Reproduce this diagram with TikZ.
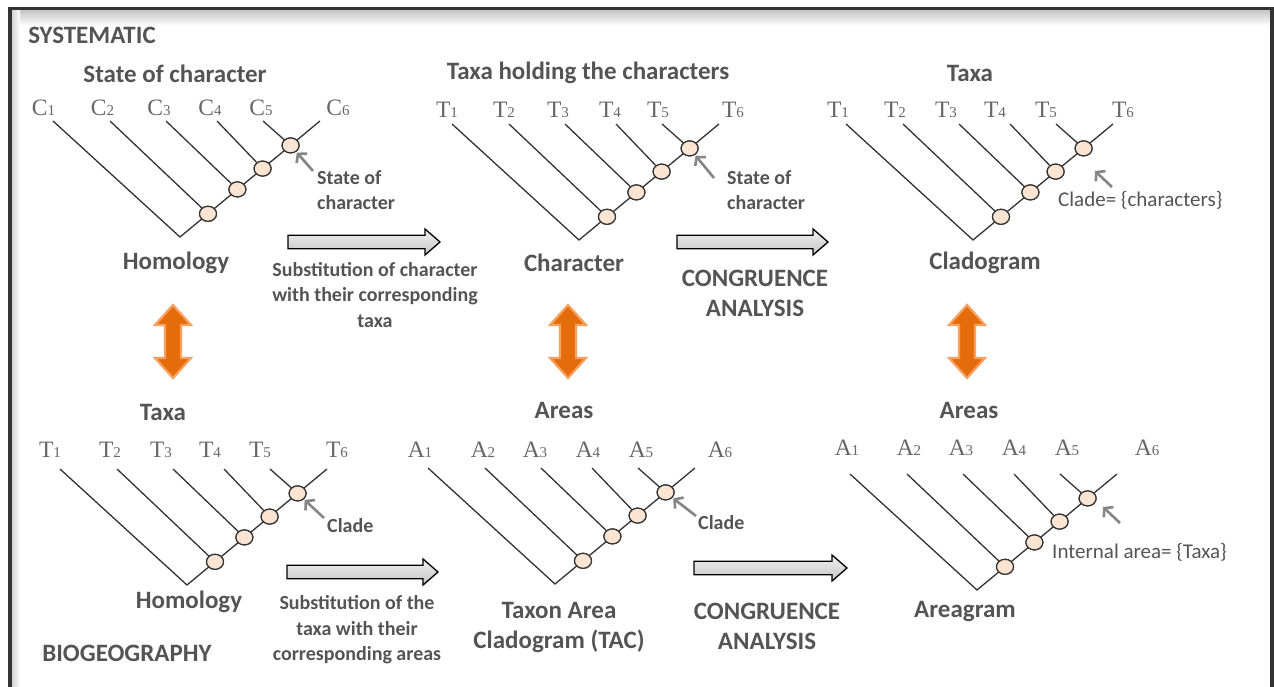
\documentclass[tikz,border=0pt]{standalone}
\usepackage{fontspec}
\setmainfont{Carlito}
\newfontfamily\leaffont{Liberation Serif}
\usetikzlibrary{shapes.geometric,arrows.meta}
\definecolor{txt}{HTML}{545454}
\definecolor{leafc}{HTML}{666666}
\definecolor{linec}{HTML}{333333}
\definecolor{peach}{HTML}{FCE4D2}
\definecolor{ptrc}{HTML}{858585}
\definecolor{orD}{HTML}{E46C0A}
\definecolor{orL}{HTML}{F9A060}
\tikzset{
  lbl/.style={font=\bfseries\fontsize{25}{30}\selectfont, text=txt, inner sep=0pt, align=center},
  note/.style={font=\bfseries\fontsize{20}{25.5}\selectfont, text=txt, inner sep=0pt, align=left},
  notereg/.style={font=\fontsize{21}{25}\selectfont, text=txt, inner sep=0pt, align=left},
  subst/.style={font=\bfseries\fontsize{20}{25.5}\selectfont, text=txt, inner sep=0pt, align=center},
  leaflab/.style={font=\leaffont\fontsize{23.5}{23.5}\selectfont, text=leafc, inner sep=0pt},
  br/.style={draw=linec, line width=1.3pt},
  knot/.style={ellipse, draw=linec, line width=1.2pt, fill=peach, minimum width=17pt, minimum height=15pt, inner sep=0pt},
  ptr/.style={draw=ptrc, line width=2.6pt, -{Straight Barb[length=6pt,width=14pt]}},
  garrow/.style={draw=black, line width=1.3pt, top color=gray!12, bottom color=gray!45},
  oarrow/.style={draw=orL, line width=2.2pt, fill=orD}
}
\newcommand{\dg}[1]{{\fontsize{15}{15}\selectfont #1}}
\newcommand{\grayarrow}[3]{% x0, x1, y
  \path[garrow] (#1,#3-6.7) -- (#2-15,#3-6.7) -- (#2-15,#3-13) -- (#2,#3) -- (#2-15,#3+13) -- (#2-15,#3+6.7) -- (#1,#3+6.7) -- cycle;}
\newcommand{\orangearrow}[1]{% cx
  \path[oarrow] (#1,305) -- (#1+18,325) -- (#1+8,325) -- (#1+8,358) -- (#1+18,358) -- (#1,378) -- (#1-18,358) -- (#1-8,358) -- (#1-8,325) -- (#1-18,325) -- cycle;}
\begin{document}
\begin{tikzpicture}[x=1pt,y=-1pt]
\useasboundingbox (0,0) rectangle (1274,687);
% frame
\shade[top color=gray!45, bottom color=white] (11.5,10) rectangle (1270.5,26);
\shade[left color=gray!35, right color=white] (11.5,10) rectangle (20,687);
\draw[line width=3.5pt, color=linec] (10,700) -- (10,8.5) -- (1272,8.5) -- (1272,700);

% trees
\foreach \p/\rx/\ry/\ly/\L/\xa/\xb/\xc/\xd/\xe/\xf in {
  a/180/237/108/C/43.5/102.5/159/210/261/338,
  b/579/240/110/T/447/504/558/610/658/733,
  c/973/240/110/T/838/895/946/995/1046/1123,
  d/187/585/450/T/50/110/161/210/260/337,
  e/555/584/450/A/420/483/535/588/641/720,
  f/977/590/448/A/847/909/961/1014/1067/1147}{
  \coordinate (\p r) at (\rx,\ry);
  \coordinate (\p s) at ({\rx+140},{\ry-116});
  \coordinate (\p l1) at ({\rx-127},{\ry-116});
  \coordinate (\p l2) at ({\rx-70},{\ry-116});
  \coordinate (\p l3) at ({\rx-14},{\ry-116});
  \coordinate (\p l4) at ({\rx+37},{\ry-116});
  \coordinate (\p l5) at ({\rx+83},{\ry-116});
  \path[br] (\p l1) -- (\p r) -- (\p s);
  \node[knot] (\p n1) at ({\rx+28},{\ry-23.2}) {};
  \node[knot] (\p n2) at ({\rx+57.4},{\ry-47.6}) {};
  \node[knot] (\p n3) at ({\rx+82.6},{\ry-68.4}) {};
  \node[knot] (\p n4) at ({\rx+110.6},{\ry-91.6}) {};
  \path[br] (\p l2) -- (\p n1);
  \path[br] (\p l3) -- (\p n2);
  \path[br] (\p l4) -- (\p n3);
  \path[br] (\p l5) -- (\p n4);
  \node[leaflab] (\p t1) at (\xa,\ly) {\L\dg{1}};
  \node[leaflab] (\p t2) at (\xb,\ly) {\L\dg{2}};
  \node[leaflab] (\p t3) at (\xc,\ly) {\L\dg{3}};
  \node[leaflab] (\p t4) at (\xd,\ly) {\L\dg{4}};
  \node[leaflab] (\p t5) at (\xe,\ly) {\L\dg{5}};
  \node[leaflab] (\p t6) at (\xf,\ly) {\L\dg{6}};
}
% redraw knots on top of lines
\foreach \p in {a,b,c,d,e,f}{
  \foreach \i in {1,2,3,4}{
    \node[knot] at (\p n\i) {};
  }
}

% pointer arrows and notes
\coordinate (aq) at (313,171);
\draw[ptr, shorten >=1pt] (aq) -- (an4);
\node[note, anchor=west] (anote) at (317,190) {State of\\character};
\coordinate (bq) at (714,178);
\draw[ptr, shorten >=1pt] (bq) -- (bn4);
\node[note, anchor=west] (bnote) at (727,190) {State of\\character};
\coordinate (cq) at (1112,187);
\coordinate (ctip) at (1095,171);
\draw[ptr] (cq) -- (ctip);
\node[notereg, anchor=west] (cnote) at (1058,200) {Clade= \{characters\}};
\coordinate (dq) at (324,518);
\draw[ptr, shorten >=1pt] (dq) -- (dn4);
\node[note, anchor=west] (dnote) at (327,526) {Clade};
\coordinate (eq) at (696,516);
\draw[ptr, shorten >=1pt] (eq) -- (en4);
\node[note, anchor=west] (enote) at (698,523) {Clade};
\coordinate (fq) at (1120,523);
\coordinate (ftip) at (1103,507);
\draw[ptr] (fq) -- (ftip);
\node[notereg, anchor=west] (fnote) at (1052,552) {Internal area= \{Taxa\}};

% block arrows
\grayarrow{288}{440}{242}
\grayarrow{677}{828}{242}
\grayarrow{287}{438}{572}
\grayarrow{694}{847}{568}
\orangearrow{173}
\orangearrow{568}
\orangearrow{967}

% labels
\node[lbl] (sys) at (92,35) {SYSTEMATIC};
\node[lbl] (h1) at (175,74) {State of character};
\node[lbl] (h2) at (588,73) {Taxa holding the characters};
\node[lbl] (h3) at (970,73) {Taxa};
\node[lbl] (hom1) at (176,263) {Homology};
\node[subst] (sub1) at (375,295) {Substitution of character\\with their corresponding\\taxa};
\node[lbl] (char) at (574,263) {Character};
\node[lbl] (cong1) at (755,293) {CONGRUENCE\\ANALYSIS};
\node[lbl] (clad) at (985,263) {Cladogram};
\node[lbl] (h4) at (163,412) {Taxa};
\node[lbl] (h5) at (564,410) {Areas};
\node[lbl] (h6) at (969,410) {Areas};
\node[lbl] (hom2) at (189,602) {Homology};
\node[lbl] (bio) at (127,653) {BIOGEOGRAPHY};
\node[subst] (sub2) at (357,630) {Substitution of the\\taxa with their\\corresponding areas};
\node[lbl] (tac) at (559,627.5) {Taxon Area\\Cladogram (TAC)};
\node[lbl] (cong2) at (767,626) {CONGRUENCE\\ANALYSIS};
\node[lbl] (areag) at (965,612) {Areagram};
\end{tikzpicture}
\end{document}
